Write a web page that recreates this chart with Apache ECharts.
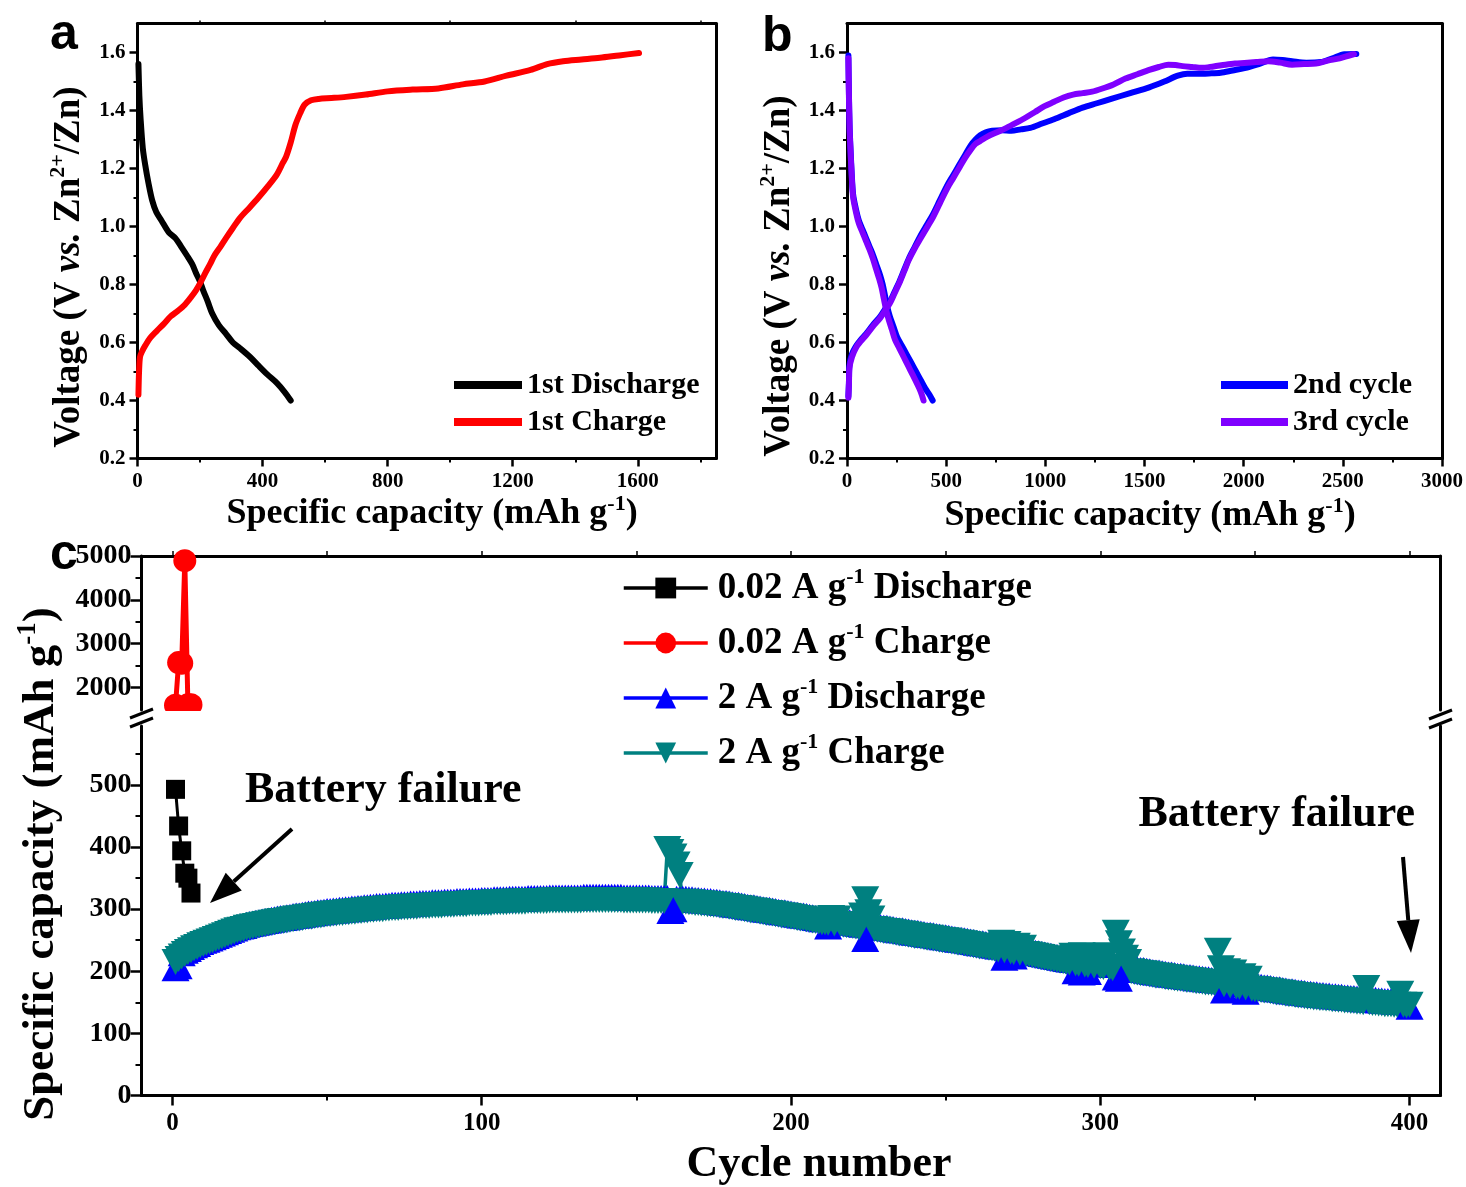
<!DOCTYPE html>
<html>
<head>
<meta charset="utf-8">
<script src="https://cdn.jsdelivr.net/npm/echarts@6/dist/echarts.min.js"></script>
<style>
  html, body { margin: 0; padding: 0; background: #fff; }
  #main { width: 1466px; height: 1187px; }
</style>
</head>
<body>
<div id="main"></div>
<script>
// ---------- (a) first cycle voltage profiles: [capacity mAh/g, voltage V] ----------
const discharge1st = [[3,1.56],[6,1.45],[10,1.37],[17,1.27],[25,1.21],[35,1.15],[47,1.09],[60,1.05],[77,1.02],[100,0.98],[121,0.96],[140,0.93],[158,0.90],[175,0.87],[187,0.84],[200,0.81],[210,0.78],[225,0.74],[239,0.70],[260,0.66],[283,0.63],[305,0.60],[328,0.58],[360,0.55],[387,0.52],[415,0.49],[446,0.46],[470,0.43],[490,0.40]];
const charge1st = [[3,0.42],[5,0.50],[8,0.55],[15,0.57],[25,0.59],[40,0.615],[62,0.64],[85,0.665],[106,0.69],[130,0.71],[151,0.73],[170,0.755],[187,0.78],[203,0.81],[217,0.84],[232,0.87],[246,0.90],[265,0.93],[283,0.96],[305,0.995],[328,1.03],[358,1.065],[387,1.10],[418,1.14],[446,1.18],[465,1.22],[475,1.24],[490,1.29],[505,1.35],[520,1.39],[534,1.42],[555,1.435],[579,1.44],[620,1.443],[667,1.447],[730,1.455],[800,1.466],[880,1.472],[962,1.476],[1040,1.49],[1110,1.50],[1180,1.52],[1257,1.54],[1310,1.56],[1361,1.57],[1420,1.576],[1479,1.582],[1540,1.59],[1604,1.598]];

// ---------- (b) 2nd and 3rd cycle voltage profiles ----------
const discharge2nd = [[7,1.59],[10,1.45],[13,1.35],[17,1.28],[24,1.18],[31,1.11],[45,1.06],[60,1.02],[78,0.99],[96,0.96],[114,0.93],[132,0.90],[150,0.865],[168,0.83],[180,0.80],[192,0.76],[204,0.72],[216,0.69],[234,0.655],[252,0.62],[276,0.59],[300,0.56],[324,0.53],[348,0.50],[372,0.47],[396,0.44],[416,0.42],[432,0.40]];
const charge2nd = [[7,0.415],[10,0.47],[12,0.52],[25,0.56],[48,0.59],[70,0.61],[96,0.63],[130,0.66],[168,0.69],[192,0.715],[216,0.74],[240,0.775],[264,0.81],[288,0.85],[312,0.89],[342,0.93],[372,0.97],[402,1.005],[432,1.04],[468,1.09],[504,1.14],[534,1.175],[564,1.21],[594,1.245],[624,1.28],[648,1.30],[672,1.315],[700,1.325],[732,1.33],[780,1.332],[828,1.33],[876,1.335],[924,1.34],[984,1.355],[1044,1.37],[1116,1.39],[1188,1.41],[1260,1.425],[1332,1.44],[1428,1.46],[1524,1.48],[1600,1.50],[1668,1.52],[1716,1.527],[1764,1.527],[1824,1.528],[1884,1.53],[1944,1.538],[2004,1.546],[2076,1.56],[2148,1.576],[2196,1.574],[2244,1.57],[2316,1.565],[2388,1.567],[2448,1.58],[2508,1.594],[2568,1.595]];
const discharge3rd = [[7,1.58],[10,1.44],[13,1.34],[17,1.27],[24,1.17],[31,1.10],[45,1.05],[60,1.01],[78,0.98],[96,0.95],[114,0.92],[130,0.89],[146,0.855],[162,0.82],[174,0.79],[186,0.75],[198,0.71],[210,0.68],[226,0.645],[242,0.61],[264,0.58],[286,0.55],[308,0.52],[330,0.49],[352,0.46],[372,0.43],[386,0.40]];
const charge3rd = [[7,0.41],[10,0.46],[12,0.51],[25,0.55],[48,0.585],[70,0.605],[96,0.625],[130,0.655],[168,0.685],[192,0.71],[216,0.735],[240,0.77],[264,0.805],[288,0.845],[312,0.885],[342,0.925],[372,0.96],[402,0.995],[432,1.03],[468,1.08],[504,1.13],[534,1.165],[564,1.20],[594,1.235],[624,1.265],[648,1.285],[672,1.295],[708,1.31],[756,1.325],[804,1.34],[852,1.357],[900,1.375],[948,1.395],[996,1.415],[1044,1.43],[1092,1.445],[1140,1.455],[1188,1.46],[1236,1.465],[1284,1.475],[1344,1.49],[1404,1.51],[1464,1.525],[1524,1.54],[1572,1.55],[1620,1.558],[1656,1.557],[1692,1.553],[1740,1.55],[1788,1.547],[1848,1.552],[1908,1.558],[1956,1.562],[2004,1.564],[2064,1.567],[2124,1.57],[2184,1.565],[2244,1.558],[2304,1.56],[2364,1.562],[2424,1.572],[2484,1.58],[2556,1.594]];

// ---------- (c) cycling: capacities per cycle (mAh/g) ----------
const lowRateCycles = [1, 2, 3, 4, 5, 6];
const lowRateDischarge = [493, 434, 394, 358, 350, 326];
const lowRateCharge = [1600, 2570, 2556, 4893, 1610, 1610];

// 2 A/g, cycles 1..400
const highRateDischarge = [
  205,208,229,233,236,239,242,244,247,249, 251,253,255,257,259,261,263,265,267,269,
  271,272,273,275,276,277,278,279,280,281, 282,283,284,285,286,286,287,288,289,290,
  290,291,292,293,293,294,295,295,296,297, 297,298,298,299,299,300,300,301,301,302,
  302,303,303,304,304,305,305,305,306,306, 307,307,307,308,308,308,309,309,309,310,
  310,310,310,311,311,311,311,312,312,312, 312,313,313,313,313,314,314,314,314,315,
  315,315,315,316,316,316,316,316,317,317, 317,317,317,317,318,318,318,318,318,318,
  318,319,319,319,319,319,319,319,319,319, 319,319,320,320,320,320,320,320,320,320,
  320,320,320,320,320,319,319,319,319,319, 319,319,319,319,318,318,318,318,318,318,
  297,300,317,317,317,317,316,316,315,315, 314,314,313,313,312,312,311,310,310,309,
  308,307,307,306,305,304,303,303,302,301, 300,299,299,298,297,296,295,295,294,293,
  292,291,290,290,289,288,287,286,285,284, 284,272,283,282,282,281,280,279,279,278,
  277,276,275,252,274,274,273,272,271,270, 270,269,268,267,266,266,265,264,263,262,
  262,261,260,259,259,258,257,256,255,255, 254,253,252,251,251,250,249,248,247,246,
  245,245,244,243,242,241,240,240,222,238, 237,224,236,235,234,233,232,231,230,229,
  228,227,226,225,224,223,222,221,220,219, 218,200,217,198,216,199,215,214,213,213,
  212,211,211,210,190,188,207,206,205,205, 204,203,202,202,201,200,199,198,198,197,
  196,195,195,194,193,193,192,191,191,190, 189,189,188,187,187,186,186,185,185,169,
  183,182,182,181,180,179,167,178,177,176, 176,175,174,174,173,172,171,171,170,169,
  168,168,167,166,166,165,164,164,163,163, 162,162,161,161,160,160,159,159,158,158,
  157,157,156,156,155,155,155,154,154,153, 153,152,152,152,151,151,151,151,150,143
];
const highRateCharge = [
  215,220,224,228,231,234,237,239,242,244, 246,248,250,252,254,256,258,260,262,264,
  266,267,268,270,271,272,273,274,275,276, 277,278,279,280,281,281,282,283,284,285,
  285,286,287,288,288,289,290,290,291,292, 292,293,293,294,294,295,295,296,296,297,
  297,298,298,299,299,300,300,300,301,301, 302,302,302,303,303,303,304,304,304,305,
  305,305,305,306,306,306,306,307,307,307, 307,308,308,308,308,309,309,309,309,310,
  310,310,310,311,311,311,311,311,312,312, 312,312,312,312,313,313,313,313,313,313,
  313,314,314,314,314,314,314,314,314,314, 314,314,315,315,315,315,315,315,315,315,
  315,315,315,315,315,314,314,314,314,314, 314,314,314,314,313,313,313,313,313,397,
  392,385,372,355,312,312,311,311,310,310, 309,309,308,308,307,307,306,305,305,304,
  303,302,302,301,300,299,298,298,297,296, 295,294,294,293,292,291,290,290,289,288,
  287,286,285,285,284,283,282,281,280,279, 279,278,286,277,285,276,275,274,274,273,
  272,271,290,316,295,285,268,267,266,265, 265,264,263,262,261,261,260,259,258,257,
  257,256,255,254,254,253,252,251,250,250, 249,248,247,246,246,245,244,243,242,241,
  240,240,239,238,237,236,235,246,234,244, 232,231,241,230,238,228,227,226,225,224,
  223,222,221,220,219,218,217,216,215,214, 225,213,212,226,211,210,224,209,222,208,
  207,226,206,205,262,245,232,222,215,200, 199,198,197,197,196,195,194,193,193,192,
  191,190,190,189,188,188,187,186,186,185, 184,184,183,182,182,181,181,233,205,179,
  200,177,198,176,175,192,174,188,172,171, 171,170,169,169,168,167,166,166,165,164,
  163,163,162,161,161,160,159,159,158,158, 157,157,156,156,155,155,154,154,153,153,
  152,152,151,151,150,173,150,149,149,148, 148,147,147,147,146,146,164,146,145,146
];

// ---------- tick values ----------
const aXMajor = [0, 400, 800, 1200, 1600], aXMinor = [200, 600, 1000, 1400, 1800];
const bXMajor = [0, 500, 1000, 1500, 2000, 2500, 3000], bXMinor = [250, 750, 1250, 1750, 2250, 2750];
const vMajor = [0.2, 0.4, 0.6, 0.8, 1.0, 1.2, 1.4, 1.6], vMinor = [0.3, 0.5, 0.7, 0.9, 1.1, 1.3, 1.5];
const cXMajor = [0, 100, 200, 300, 400], cXMinor = [50, 150, 250, 350];
const cXTop = [0, 50, 100, 150, 200, 250, 300, 350, 400];
const cYHighMajor = [2000, 3000, 4000, 5000], cYHighMinor = [2500, 3500, 4500];
const cYLowMajor = [0, 100, 200, 300, 400, 500], cYLowMinor = [50, 150, 250, 350, 450, 550];

const SERIF = '"Liberation Serif", "Times New Roman", serif';
const SANS = '"Liberation Sans", Arial, sans-serif';
const INK = '#000';

const pairs = (xs, ys) => ys.map((v, i) => [xs[i], v]);
const byCycle = ys => ys.map((v, i) => [i + 1, v]);

function majorAxis(pos, grid, min, max, vals, o) {
  return {
    type: 'value', gridIndex: grid, position: pos, min, max,
    axisLine: { show: true, onZero: false, lineStyle: { color: INK, width: 3 } },
    axisTick: { show: true, inside: false, length: o.tick, customValues: vals, lineStyle: { color: INK, width: 2.5 } },
    axisLabel: { show: true, customValues: vals, margin: o.margin, formatter: o.fmt || (v => String(v)), color: INK,
      fontFamily: SERIF, fontWeight: 'bold', fontSize: o.size },
    splitLine: { show: false }
  };
}
function minorAxis(pos, grid, min, max, vals, len) {
  return {
    type: 'value', gridIndex: grid, position: pos, min, max,
    axisLine: { show: false, onZero: false },
    axisTick: { show: true, inside: false, length: len, customValues: vals, lineStyle: { color: INK, width: 2 } },
    axisLabel: { show: false }, splitLine: { show: false }
  };
}
function borderAxis(pos, grid, min, max, vals, len) {
  return {
    type: 'value', gridIndex: grid, position: pos, min, max,
    axisLine: { show: true, onZero: false, lineStyle: { color: INK, width: 3 } },
    axisTick: vals ? { show: true, inside: false, length: len, customValues: vals, lineStyle: { color: INK, width: 1.5 } } : { show: false },
    axisLabel: { show: false }, splitLine: { show: false }
  };
}

const fmtV = v => v.toFixed(1);

const supRich = (size, supSize, lh) => ({
  g: { width: 5 },
  t: { fontFamily: SERIF, fontWeight: 'bold', fontSize: size, lineHeight: lh, color: INK },
  i: { fontFamily: SERIF, fontWeight: 'bold', fontStyle: 'italic', fontSize: size, lineHeight: lh, color: INK },
  s: { fontFamily: SERIF, fontWeight: 'bold', fontSize: supSize, lineHeight: Math.round(supSize * 1.1), verticalAlign: 'top', color: INK }
});

function textEl(x, y, text, rich, opts) {
  return Object.assign({
    type: 'text', x, y, z: 60,
    style: Object.assign({ text, rich, align: 'center', verticalAlign: 'middle', textAlign: 'center', textVerticalAlign: 'middle', fill: INK }, opts && opts.style)
  }, opts && opts.el);
}
function plainText(x, y, text, font, size, align) {
  return { type: 'text', x, y, z: 60, style: { text, fill: INK, fontFamily: font, fontWeight: 'bold', fontSize: size,
    align: align, textAlign: align, verticalAlign: 'middle', textVerticalAlign: 'middle' } };
}
function arrow(x0, y0, x1, y1, headLen, headHalf) {
  const dx = x1 - x0, dy = y1 - y0, L = Math.hypot(dx, dy);
  const ux = dx / L, uy = dy / L, nx = -uy, ny = ux;
  const bx = x1 - ux * headLen, by = y1 - uy * headLen;
  return [
    { type: 'line', z: 60, shape: { x1: x0, y1: y0, x2: bx, y2: by }, style: { stroke: INK, lineWidth: 4 } },
    { type: 'polygon', z: 60, shape: { points: [[x1, y1], [bx + nx * headHalf, by + ny * headHalf], [bx - nx * headHalf, by - ny * headHalf]] }, style: { fill: INK } }
  ];
}

const capTitle = '{t|Specific capacity (mAh g}{s|-1}{t|)}';
const voltTitle = '{t|Voltage (V }{i|vs.}{t| Zn}{s|2+}{t|/Zn)}';

const lineSeries = (name, data, color, xi, yi) => ({
  type: 'line', name, data, xAxisIndex: xi, yAxisIndex: yi, symbol: 'none', smooth: 0.3,
  lineStyle: { color, width: 6, cap: 'round', join: 'round' }, itemStyle: { color }, silent: true
});

const option = {
  backgroundColor: '#fff',
  animation: false,
  grid: [
    { left: 137.5, top: 23.5, width: 578.5, height: 435 },
    { left: 847, top: 23.5, width: 599, height: 435 },
    { left: 141.5, top: 556, width: 1299, height: 154 },
    { left: 141.5, top: 726, width: 1299, height: 369.5 }
  ],
  xAxis: [
    majorAxis('bottom', 0, 0, 1850, aXMajor, { tick: 8, margin: 13, size: 21 }),
    minorAxis('bottom', 0, 0, 1850, aXMinor, 4),
    borderAxis('top', 0, 0, 1850, aXMinor, 3),
    majorAxis('bottom', 1, 0, 3000, bXMajor, { tick: 8, margin: 13, size: 21 }),
    minorAxis('bottom', 1, 0, 3000, bXMinor, 4),
    borderAxis('top', 1, 0, 3000, null, 0),
    borderAxis('top', 2, -10, 410, cXTop, 5),
    majorAxis('bottom', 3, -10, 410, cXMajor, { tick: 10, margin: 16, size: 25 }),
    minorAxis('bottom', 3, -10, 410, cXMinor, 5)
  ],
  yAxis: [
    majorAxis('left', 0, 0.2, 1.7, vMajor, { tick: 8, margin: 12, size: 21, fmt: fmtV }),
    minorAxis('left', 0, 0.2, 1.7, vMinor, 4),
    borderAxis('right', 0, 0.2, 1.7, null, 0),
    majorAxis('left', 1, 0.2, 1.7, vMajor, { tick: 8, margin: 12, size: 21, fmt: fmtV }),
    minorAxis('left', 1, 0.2, 1.7, vMinor, 4),
    borderAxis('right', 1, 0.2, 1.7, null, 0),
    majorAxis('left', 2, 1490, 5000, cYHighMajor, { tick: 11, margin: 10, size: 28 }),
    minorAxis('left', 2, 1490, 5000, cYHighMinor, 6),
    borderAxis('right', 2, 1490, 5000, null, 0),
    majorAxis('left', 3, 0, 595, cYLowMajor, { tick: 11, margin: 10, size: 28 }),
    minorAxis('left', 3, 0, 595, cYLowMinor, 6),
    borderAxis('right', 3, 0, 595, null, 0)
  ],
  legend: [
    {
      data: ['1st Discharge', '1st Charge'], orient: 'vertical', left: 454, top: 368, padding: 0,
      icon: 'rect', itemWidth: 68, itemHeight: 8, itemGap: 3, selectedMode: false,
      textStyle: { fontFamily: SERIF, fontWeight: 'bold', fontSize: 30, lineHeight: 34, color: INK }
    },
    {
      data: ['2nd cycle', '3rd cycle'], orient: 'vertical', left: 1221, top: 368, padding: 0,
      icon: 'rect', itemWidth: 67, itemHeight: 8, itemGap: 3, selectedMode: false,
      textStyle: { fontFamily: SERIF, fontWeight: 'bold', fontSize: 30, lineHeight: 34, color: INK }
    },
    {
      data: ['0.02 A g-1 Discharge', '0.02 A g-1 Charge', '2 A g-1 Discharge', '2 A g-1 Charge'],
      orient: 'vertical', left: 622, top: 566, padding: 0, itemWidth: 84, itemHeight: 26, itemGap: 11, selectedMode: false,
      lineStyle: { width: 3.5 },
      formatter: name => { const m = name.match(/^(.*) g-1 (.*)$/); return '{g|}{t|' + m[1] + ' g}{s|-1}{t| ' + m[2] + '}'; },
      textStyle: { fontFamily: SERIF, fontWeight: 'bold', fontSize: 37, lineHeight: 44, color: INK, rich: supRich(37, 22, 44) }
    }
  ],
  series: [
    lineSeries('1st Discharge', discharge1st, '#000000', 0, 0),
    lineSeries('1st Charge', charge1st, '#ff0000', 0, 0),
    lineSeries('2nd cycle', discharge2nd, '#0000ff', 3, 3),
    lineSeries('2nd cycle', charge2nd, '#0000ff', 3, 3),
    lineSeries('3rd cycle', discharge3rd, '#7f00ff', 3, 3),
    lineSeries('3rd cycle', charge3rd, '#7f00ff', 3, 3),
    {
      type: 'line', name: '0.02 A g-1 Discharge', xAxisIndex: 7, yAxisIndex: 9,
      data: pairs(lowRateCycles, lowRateDischarge), symbol: 'rect', symbolSize: 19,
      lineStyle: { color: '#000', width: 3 }, itemStyle: { color: '#000' }, silent: true
    },
    {
      type: 'line', name: '0.02 A g-1 Charge', xAxisIndex: 6, yAxisIndex: 6,
      data: pairs(lowRateCycles, lowRateCharge), symbol: 'circle', symbolSize: 23,
      lineStyle: { color: '#ff0000', width: 5 }, itemStyle: { color: '#ff0000' }, silent: true
    },
    {
      type: 'line', name: '2 A g-1 Discharge', xAxisIndex: 7, yAxisIndex: 9,
      data: byCycle(highRateDischarge), symbol: 'triangle', symbolSize: [28, 26],
      lineStyle: { color: '#0000ff', width: 3 }, itemStyle: { color: '#0000ff' }, silent: true
    },
    {
      type: 'line', name: '2 A g-1 Charge', xAxisIndex: 7, yAxisIndex: 9,
      data: byCycle(highRateCharge), symbol: 'triangle', symbolRotate: 180, symbolSize: [28, 26],
      lineStyle: { color: '#008080', width: 3.5 }, itemStyle: { color: '#008080' }, silent: true
    }
  ],
  graphic: [
    // panel letters
    plainText(50, 35, 'a', SANS, 50, 'left'),
    plainText(762, 37, 'b', SANS, 50, 'left'),
    plainText(50, 555, 'c', SANS, 50, 'left'),
    // axis titles
    textEl(432, 514, capTitle, supRich(36, 22, 42)),
    textEl(1150, 516, capTitle, supRich(36, 22, 42)),
    textEl(69, 267, voltTitle, supRich(37, 22, 44), { el: { rotation: Math.PI / 2 } }),
    textEl(779, 276, voltTitle, supRich(37, 22, 44), { el: { rotation: Math.PI / 2 } }),
    textEl(41, 864, capTitle, supRich(45, 27, 52), { el: { rotation: Math.PI / 2 } }),
    plainText(819, 1165, 'Cycle number', SERIF, 44, 'center'),
    // annotations
    plainText(245, 791, 'Battery failure', SERIF, 44, 'left'),
    plainText(1415, 815, 'Battery failure', SERIF, 44, 'right'),
    ...arrow(292, 829, 210, 903, 32, 12),
    ...arrow(1403, 857, 1411, 953, 33, 11.5),
    // axis break
    { type: 'rect', z: 50, shape: { x: 143, y: 711, width: 90, height: 14 }, style: { fill: '#fff' } },
    { type: 'line', z: 61, shape: { x1: 130, y1: 718, x2: 153, y2: 709 }, style: { stroke: INK, lineWidth: 3 } },
    { type: 'line', z: 61, shape: { x1: 130, y1: 727, x2: 153, y2: 718 }, style: { stroke: INK, lineWidth: 3 } },
    { type: 'line', z: 61, shape: { x1: 1429, y1: 719, x2: 1452, y2: 710 }, style: { stroke: INK, lineWidth: 3 } },
    { type: 'line', z: 61, shape: { x1: 1429, y1: 728, x2: 1452, y2: 719 }, style: { stroke: INK, lineWidth: 3 } }
  ]
};

const chart = echarts.init(document.getElementById('main'), null, { renderer: 'canvas' });
chart.setOption(option);
</script>
</body>
</html>
